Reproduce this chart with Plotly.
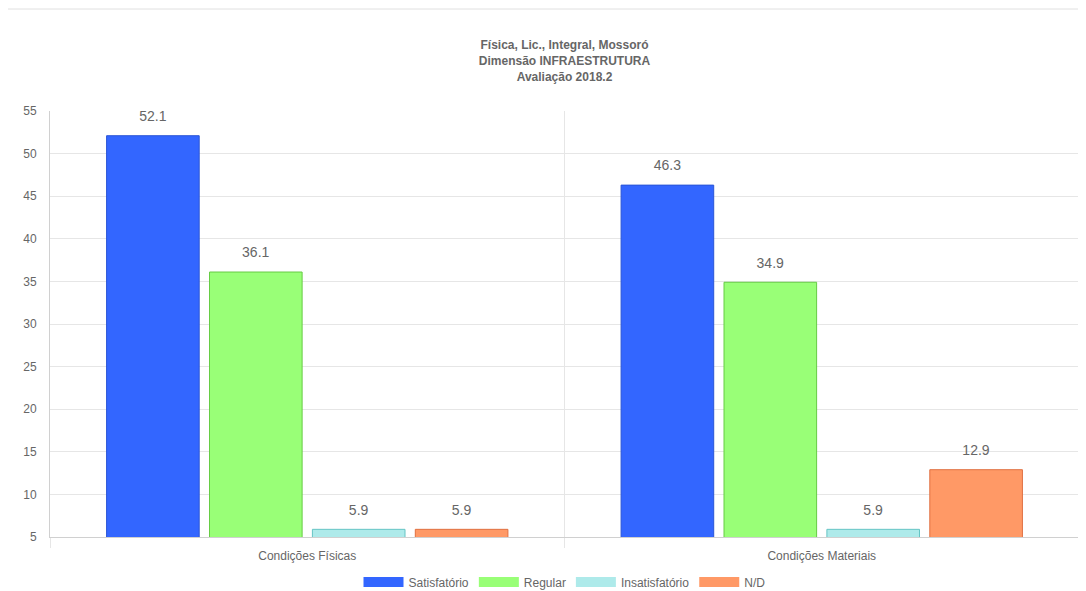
import plotly.graph_objects as go

categories = ["Condições Físicas", "Condições Materiais"]
series_names = ["Satisfatório", "Regular", "Insatisfatório", "N/D"]
satisfatorio = [52.1, 46.3]
regular = [36.1, 34.9]
insatisfatorio = [5.9, 5.9]
nd = [5.9, 12.9]
y_ticks = [5, 10, 15, 20, 25, 30, 35, 40, 45, 50, 55]

series_values = [satisfatorio, regular, insatisfatorio, nd]
fills = ["#3366ff", "#99ff77", "#aeeaea", "#ff9966"]
borders = ["#2a55d6", "#66cc44", "#66c4c4", "#e07040"]

FONT = "Liberation Sans, Arial, Helvetica, sans-serif"
GRAY = "#666666"
xpos = list(range(len(categories)))

# the page body has an 8px margin, so the figure is drawn at (8, 8)
W, H = 1078, 583
ML, MR, MT, MB = 42, 7, 103, 54
plot_h = H - MT - MB
plot_w = W - ML - MR

fig = go.Figure()
for name, vals, fc, bc in zip(series_names, series_values, fills, borders):
    fig.add_trace(go.Bar(
        x=xpos, y=vals, name=name,
        marker=dict(color=fc, line=dict(color=bc, width=1)),
        text=[f"{v:.1f}" for v in vals],
        texttemplate="<span style='font-size:14px'>%{text}</span><br><span style='font-size:7.5px'>&nbsp;</span>",
        textposition="outside",
        textfont=dict(family=FONT, size=7.5, color=GRAY),
        cliponaxis=False,
        showlegend=False,
    ))
    fig.add_trace(go.Scatter(
        x=[None], y=[None], mode="lines", name=name,
        line=dict(color=fc, width=12),
        showlegend=True,
    ))

fig.update_layout(
    width=W, height=H,
    paper_bgcolor="white", plot_bgcolor="white",
    margin=dict(l=ML, r=MR, t=MT, b=MB, autoexpand=False),
    barmode="group", bargap=0.2, bargroupgap=0.1,
    font=dict(family=FONT, size=12, color=GRAY),
    title=dict(
        text="<b>Física, Lic., Integral, Mossoró<br>Dimensão INFRAESTRUTURA<br>Avaliação 2018.2</b>",
        x=0.5, xref="paper", xanchor="center",
        y=1 - 41.4 / H, yref="container", yanchor="top",
        font=dict(family=FONT, size=12, color=GRAY),
    ),
    legend=dict(
        orientation="h", x=0.5, xanchor="center",
        y=9 / H, yref="container", yanchor="middle",
        font=dict(family=FONT, size=12, color=GRAY),
        itemwidth=40,
    ),
    showlegend=True,
    shapes=[dict(type="line", xref="paper", yref="paper",
                 x0=-ML / plot_w, x1=1 + MR / plot_w,
                 y0=1 + (MT - 1) / plot_h, y1=1 + (MT - 1) / plot_h,
                 line=dict(color="#e0e0e0", width=1))],
)

fig.update_xaxes(
    range=[-0.5, len(categories) - 0.5],
    tickvals=xpos, ticktext=categories,
    showgrid=False, zeroline=False, automargin=False,
    ticks="", ticklabelstandoff=8,
    showline=True, linecolor="#d0d0d0", linewidth=1,
    minor=dict(tickvals=[i - 0.5 for i in range(len(categories) + 1)],
               showgrid=True, gridcolor="#e6e6e6", gridwidth=1,
               ticks="outside", ticklen=10, tickcolor="#e6e6e6"),
    tickfont=dict(family=FONT, size=12, color=GRAY),
    fixedrange=True,
)
fig.update_yaxes(
    range=[y_ticks[0], y_ticks[-1]], tickvals=y_ticks,
    showgrid=True, gridcolor="#e6e6e6", gridwidth=1,
    zeroline=False, showline=True, linecolor="#d0d0d0", linewidth=1,
    ticks="", ticklabelstandoff=10, automargin=False,
    tickfont=dict(family=FONT, size=12, color=GRAY),
)

fig.write_html("out.html")
